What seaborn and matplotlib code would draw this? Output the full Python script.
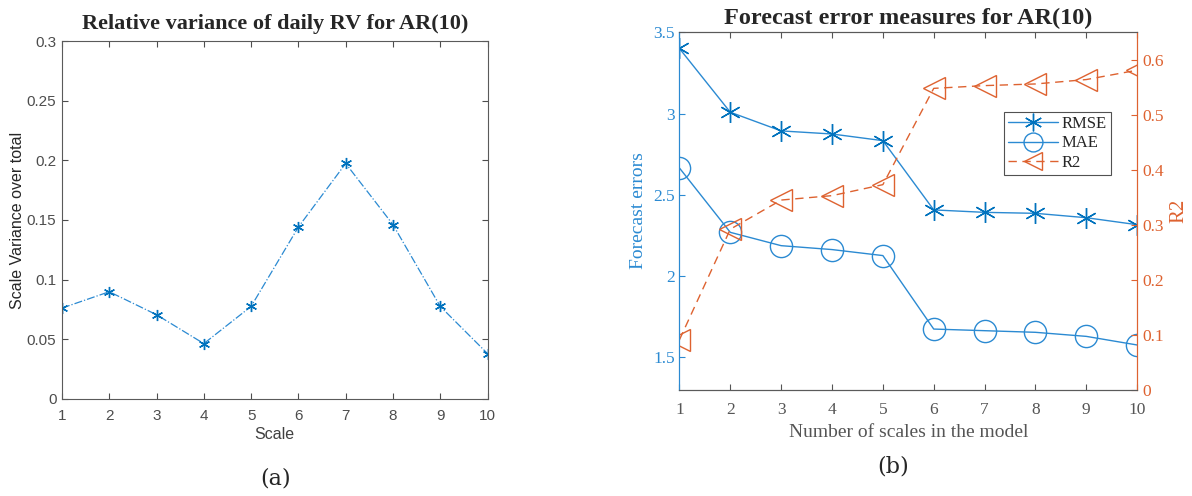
import numpy as np
import pandas as pd
import matplotlib
matplotlib.use("Agg")
import matplotlib.pyplot as plt
import seaborn as sns

scales = [1, 2, 3, 4, 5, 6, 7, 8, 9, 10]
rel_var = [0.0761, 0.0898, 0.0705, 0.0463, 0.0775, 0.1441, 0.1974, 0.1461, 0.0775, 0.0379]

rmse = [3.40, 3.008, 2.893, 2.874, 2.833, 2.407, 2.392, 2.386, 2.359, 2.316]
mae = [2.665, 2.269, 2.187, 2.163, 2.126, 1.674, 1.664, 1.654, 1.629, 1.576]
r2 = [0.091, 0.292, 0.345, 0.353, 0.373, 0.548, 0.553, 0.556, 0.564, 0.581]

sns.set_style("ticks")
plt.rcParams["font.family"] = ["Liberation Sans", "DejaVu Sans"]

blue = "#0072BD"
orange = "#DE6230"
lblue = "#2b8ad2"
asterisk = (6, 2, 0)

fig = plt.figure(figsize=(11.92, 4.96), dpi=100)

# (a)
ax1 = fig.add_axes([0.052, 0.196, 0.357, 0.721])
df1 = pd.DataFrame({"scale": scales, "var": rel_var})
sns.lineplot(data=df1, x="scale", y="var", ax=ax1, color=lblue, linestyle="-.",
             marker=asterisk, markersize=8, markeredgecolor=blue,
             markeredgewidth=1.0, linewidth=0.9)
ax1.set_xlim(1, 10)
ax1.set_ylim(0, 0.3)
ax1.set_xticks(scales)
ax1.set_yticks([0, 0.05, 0.1, 0.15, 0.2, 0.25, 0.3])
ax1.set_yticklabels(["0", "0.05", "0.1", "0.15", "0.2", "0.25", "0.3"])
ax1.tick_params(direction="in", top=True, right=True, labelsize=11,
                colors="#4d4d4d", length=4)
ax1.tick_params(axis="x", pad=7)
ax1.tick_params(axis="y", pad=4)
for s in ax1.spines.values():
    s.set_color("#5a5a5a")
    s.set_linewidth(0.8)
ax1.set_xlabel("Scale", fontsize=11.5, color="#404040", labelpad=3)
ax1.set_ylabel("Scale Variance over total", fontsize=11.5, color="#262626", labelpad=1)
ax1.set_title("Relative variance of daily RV for AR(10)", fontsize=16,
              fontweight="bold", family="Liberation Serif", pad=9)
fig.text(0.231, 0.035, "(a)", ha="center", va="center", fontsize=16,
         family="DejaVu Serif")

# (b)
ax2 = fig.add_axes([0.570, 0.214, 0.384, 0.721])
ax3 = ax2.twinx()
df2 = pd.DataFrame({"n": scales, "RMSE": rmse, "MAE": mae, "R2": r2})
sns.lineplot(data=df2, x="n", y="RMSE", ax=ax2, color=lblue, marker=asterisk,
             markersize=15, markeredgecolor=blue, markeredgewidth=1.0,
             linewidth=1.0, label="RMSE", legend=False)
sns.lineplot(data=df2, x="n", y="MAE", ax=ax2, color=lblue, marker="o",
             markersize=16, markerfacecolor="none", markeredgecolor=lblue,
             markeredgewidth=1.0, linewidth=1.0, label="MAE", legend=False)
sns.lineplot(data=df2, x="n", y="R2", ax=ax3, color=orange, marker="<",
             markersize=16, markerfacecolor="none", markeredgecolor=orange,
             markeredgewidth=1.0, linewidth=1.0, linestyle=(0, (6, 4)),
             label="R2", legend=False)
ax2.set_xlim(1, 10)
ax2.set_ylim(1.3, 3.5)
ax3.set_ylim(0, 0.65)
ax2.set_xticks(scales)
ax2.set_yticks([1.5, 2, 2.5, 3, 3.5])
ax2.set_yticklabels(["1.5", "2", "2.5", "3", "3.5"])
ax3.set_yticks([0, 0.1, 0.2, 0.3, 0.4, 0.5, 0.6])
ax3.set_yticklabels(["0", "0.1", "0.2", "0.3", "0.4", "0.5", "0.6"])
serif = "Liberation Serif"
ax2.tick_params(axis="x", direction="in", top=True, labelsize=12.5,
                colors="#555555", length=4, pad=9)
ax2.tick_params(axis="y", direction="in", labelsize=12.5, colors=lblue, length=4)
ax3.tick_params(axis="y", direction="in", labelsize=12.5, colors=orange, length=4)
for lab in ax2.get_xticklabels() + ax2.get_yticklabels() + ax3.get_yticklabels():
    lab.set_family(serif)
for ax in (ax2, ax3):
    ax.spines["top"].set_color("#5a5a5a")
    ax.spines["bottom"].set_color("#5a5a5a")
    ax.spines["left"].set_color(lblue)
    ax.spines["right"].set_color(orange)
    for s in ax.spines.values():
        s.set_linewidth(0.8)
ax2.set_xlabel("Number of scales in the model", fontsize=14, family=serif,
               color="#555555", labelpad=4)
ax2.set_ylabel("Forecast errors", fontsize=14, family=serif, color=lblue, labelpad=4)
ax3.set_ylabel("R2", fontsize=15, family=serif, color=orange, labelpad=4)
ax2.set_title("Forecast error measures for AR(10)", fontsize=17.5,
              fontweight="bold", family=serif, pad=6)
h1, l1 = ax2.get_legend_handles_labels()
h2, l2 = ax3.get_legend_handles_labels()
leg = ax3.legend(h1 + h2, l1 + l2, loc="upper right", bbox_to_anchor=(0.943, 0.777),
                 borderaxespad=0, frameon=True, fancybox=False, edgecolor="#262626",
                 prop={"family": serif, "size": 12}, handlelength=3,
                 borderpad=0.25, labelspacing=0.2, handletextpad=0.2,
                 markerscale=0.85)
leg.get_frame().set_linewidth(0.8)
fig.text(0.749, 0.06, "(b)", ha="center", va="center", fontsize=16,
         family="DejaVu Serif")

fig.savefig("out.png", dpi=100)
